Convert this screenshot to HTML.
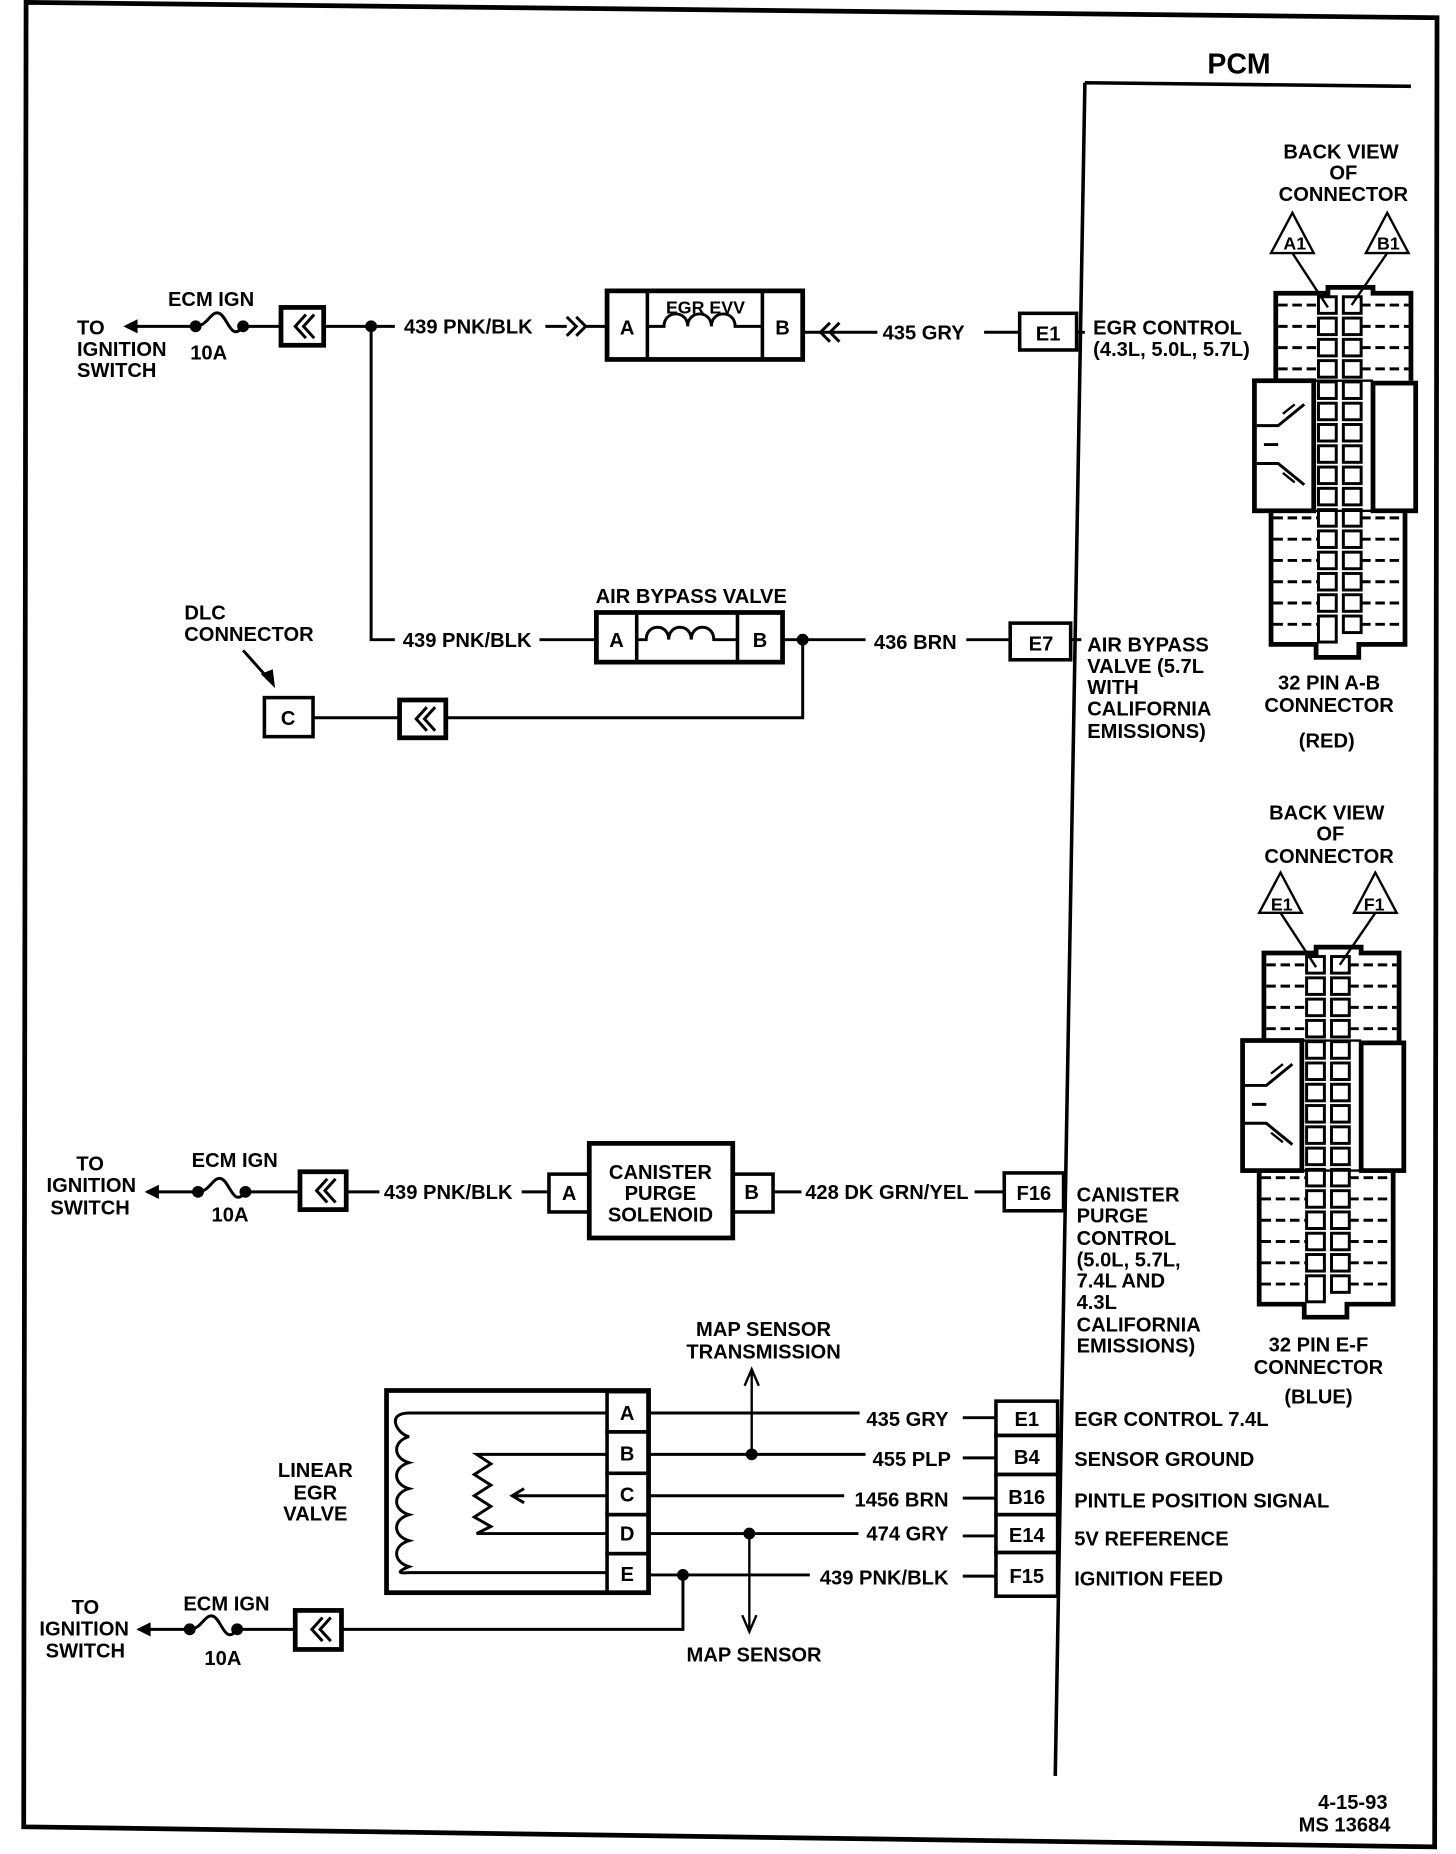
<!DOCTYPE html>
<html><head><meta charset="utf-8"><style>
html,body{margin:0;padding:0;background:#fff;}
svg{display:block;}
text{font-family:"Liberation Sans Narrow","Liberation Sans",sans-serif;font-weight:bold;font-size:17px;fill:#000;}
</style></head><body>
<svg width="1456" height="1854" viewBox="0 0 1228 1568" preserveAspectRatio="none" xmlns="http://www.w3.org/2000/svg">
<defs>
<g id="conn" stroke="#000" fill="none">
  <path d="M1076,322 V248 H1120 V243 H1158 V248 H1190 V322" stroke-width="4"/>
  <rect x="1058" y="322" width="50" height="110" stroke-width="4"/>
  <rect x="1158" y="324" width="36" height="108" stroke-width="4"/>
  <path d="M1108,322 H1158 M1108,432 H1158" stroke-width="2"/>
  <path d="M1072,433 V545 H1110 V556 H1146 V545 H1185 V433" stroke-width="4"/>
  <path d="M1060,360 H1078 L1100,342 M1060,392 H1078 L1100,410 M1078,376 H1066" stroke-width="2.5"/>
  <path d="M1082,350 L1092,342 M1082,400 L1092,408" stroke-width="2"/>
  <g stroke-width="2.5">
   <rect x="1112" y="251" width="15" height="14"/><rect x="1133" y="251" width="15" height="14"/>
   <rect x="1112" y="269" width="15" height="14"/><rect x="1133" y="269" width="15" height="14"/>
   <rect x="1112" y="287" width="15" height="14"/><rect x="1133" y="287" width="15" height="14"/>
   <rect x="1112" y="305" width="15" height="14"/><rect x="1133" y="305" width="15" height="14"/>
   <rect x="1112" y="323" width="15" height="14"/><rect x="1133" y="323" width="15" height="14"/>
   <rect x="1112" y="341" width="15" height="14"/><rect x="1133" y="341" width="15" height="14"/>
   <rect x="1112" y="359" width="15" height="14"/><rect x="1133" y="359" width="15" height="14"/>
   <rect x="1112" y="377" width="15" height="14"/><rect x="1133" y="377" width="15" height="14"/>
   <rect x="1112" y="395" width="15" height="14"/><rect x="1133" y="395" width="15" height="14"/>
   <rect x="1112" y="413" width="15" height="14"/><rect x="1133" y="413" width="15" height="14"/>
   <rect x="1112" y="431" width="15" height="14"/><rect x="1133" y="431" width="15" height="14"/>
   <rect x="1112" y="449" width="15" height="14"/><rect x="1133" y="449" width="15" height="14"/>
   <rect x="1112" y="467" width="15" height="14"/><rect x="1133" y="467" width="15" height="14"/>
   <rect x="1112" y="485" width="15" height="14"/><rect x="1133" y="485" width="15" height="14"/>
   <rect x="1112" y="503" width="15" height="14"/><rect x="1133" y="503" width="15" height="14"/>
   <rect x="1112" y="521" width="15" height="22"/><rect x="1133" y="521" width="15" height="14"/>
  </g>
  <g stroke-width="2.5" stroke-dasharray="8,4">
   <path d="M1078,258 H1112 M1148,258 H1188 M1078,276 H1112 M1148,276 H1188 M1078,294 H1112 M1148,294 H1188 M1078,312 H1112 M1148,312 H1188"/>
   <path d="M1074,438 H1112 M1148,438 H1183 M1074,456 H1112 M1148,456 H1183 M1074,474 H1112 M1148,474 H1183 M1074,492 H1112 M1148,492 H1183 M1074,510 H1112 M1148,510 H1183 M1074,528 H1112 M1148,528 H1183"/>
  </g>
  <polygon points="1090,180 1072,214 1108,214" stroke-width="2"/>
  <polygon points="1170,180 1152,214 1188,214" stroke-width="2"/>
  <path d="M1090,214 L1120,260 M1170,214 L1140,258" stroke-width="2"/>
</g>
</defs>

<polygon points="22,2 1212,15 1210,1562 20,1545" fill="none" stroke="#000" stroke-width="4"/>
<text x="1045" y="62" style="font-size:24px" text-anchor="middle">PCM</text>
<path d="M915,70 L1190,73 M915,70 L890,1502" stroke="#000" stroke-width="3" fill="none"/>

<g stroke="#000" fill="none" stroke-width="2.5">
<path d="M108,276 H165"/>
<path d="M165,276 C175,276 178,262 185,265 C192,268 195,290 205,276"/>
<path d="M205,276 H237 M273,276 H333"/>
<rect x="237" y="260" width="36" height="32" stroke-width="4"/>
<path d="M258,266 L249,276 L258,286 M265,266 L256,276 L265,286"/>
<path d="M313,276 V541 H333"/>
<path d="M460,276 H478 M478,268 L486,276 L478,284 M486,268 L494,276 L486,284 M494,276 H512"/>
<rect x="512" y="246" width="165" height="58" stroke-width="4"/>
<path d="M546,246 V304 M643,246 V304" stroke-width="3"/>
<path d="M546,276 H560 c0,-14 20,-14 20,0 c0,-14 20,-14 20,0 c0,-14 20,-14 20,0 V276 H643"/>
<path d="M677,281 H708 M700,273 L692,281 L700,289 M708,273 L700,281 L708,289 M708,281 H740"/>
<path d="M830,281 H860"/>
<rect x="860" y="265" width="48" height="31" stroke-width="3"/>
<path d="M908,281 H915"/>
<path d="M455,541 H503"/>
<rect x="503" y="518" width="157" height="42" stroke-width="4"/>
<path d="M537,518 V560 M622,518 V560" stroke-width="3"/>
<path d="M537,541 H545 c0,-14 19,-14 19,0 c0,-14 19,-14 19,0 c0,-14 19,-14 19,0 V541 H622"/>
<path d="M660,541 H730 M815,541 H852"/>
<rect x="852" y="527" width="51" height="31" stroke-width="3"/>
<path d="M903,541 H912"/>
<path d="M677,541 V607 H376 M337,607 H264"/>
<rect x="337" y="592" width="39" height="32" stroke-width="4"/>
<path d="M360,598 L351,608 L360,618 M367,598 L358,608 L367,618"/>
<rect x="223" y="590" width="41" height="33" stroke-width="3"/>
<path d="M205,550 L230,578"/>
<path d="M124,1008 H167"/>
<path d="M167,1008 C177,1008 180,994 187,997 C194,1000 197,1022 207,1008"/>
<path d="M207,1008 H253 M292,1008 H320 M440,1008 H463"/>
<rect x="253" y="991" width="39" height="32" stroke-width="4"/>
<path d="M276,997 L267,1007 L276,1017 M283,997 L274,1007 L283,1017"/>
<rect x="463" y="993" width="34" height="32" stroke-width="3"/>
<rect x="497" y="967" width="121" height="80" stroke-width="4"/>
<rect x="618" y="993" width="34" height="32" stroke-width="3"/>
<path d="M652,1008 H676 M822,1008 H847"/>
<rect x="847" y="992" width="50" height="32" stroke-width="3"/>
<rect x="326" y="1176" width="221" height="171" stroke-width="4"/>
<rect x="512" y="1177" width="35" height="34" stroke-width="3"/>
<rect x="512" y="1211" width="35" height="35" stroke-width="3"/>
<rect x="512" y="1246" width="35" height="35" stroke-width="3"/>
<rect x="512" y="1281" width="35" height="33" stroke-width="3"/>
<rect x="512" y="1314" width="35" height="33" stroke-width="3"/>
<path d="M512,1195 H345 c-20,0 -10,18 0,20 c-14,4 -14,18 0,22 c-14,4 -14,18 0,22 c-14,4 -14,18 0,22 c-14,4 -14,18 0,22 c-14,4 -14,18 0,22 c-10,4 -10,6 0,5 H512"/>
<path d="M512,1230 H402 L414,1238 L400,1247 L414,1256 L400,1265 L414,1274 L400,1283 L414,1291 L402,1297 H512"/>
<path d="M512,1265 H432 M442,1259 L432,1265 L442,1271"/>
<path d="M547,1195 H725 M547,1230 H730 M547,1265 H712 M547,1297 H724 M547,1332 H683"/>
<path d="M812,1199 H840 M812,1233 H840 M812,1267 H840 M812,1299 H840 M812,1333 H840"/>
<rect x="840" y="1185" width="52" height="29" stroke-width="3"/>
<rect x="840" y="1214" width="52" height="33" stroke-width="3"/>
<rect x="840" y="1247" width="52" height="34" stroke-width="3"/>
<rect x="840" y="1281" width="52" height="32" stroke-width="3"/>
<rect x="840" y="1313" width="52" height="37" stroke-width="3"/>
<path d="M634,1230 V1160 M628,1172 L634,1158 L640,1172" stroke-width="2"/>
<path d="M632,1297 V1378 M626,1366 L632,1380 L638,1366" stroke-width="2"/>
<path d="M576,1332 V1378 H288 M249,1378 H200"/>
<rect x="249" y="1362" width="39" height="33" stroke-width="4"/>
<path d="M272,1368 L263,1378 L272,1388 M279,1368 L270,1378 L279,1388"/>
<path d="M160,1378 C170,1378 173,1364 180,1367 C187,1370 190,1392 200,1378"/>
<path d="M117,1378 H160"/>
</g>
<g fill="#000">
<circle cx="313" cy="276" r="5"/><circle cx="165" cy="276" r="5"/><circle cx="205" cy="276" r="5"/>
<circle cx="677" cy="541" r="5"/>
<circle cx="167" cy="1008" r="5"/><circle cx="207" cy="1008" r="5"/>
<circle cx="160" cy="1378" r="5"/><circle cx="200" cy="1378" r="5"/>
<circle cx="634" cy="1230" r="5"/><circle cx="632" cy="1297" r="5"/><circle cx="576" cy="1332" r="5"/>
<polygon points="104,276 116,270 116,282"/>
<polygon points="122,1008 134,1002 134,1014"/>
<polygon points="115,1378 127,1372 127,1384"/>
<polygon points="232,582 220,570 230,566"/>
</g>

<use href="#conn"/>
<use href="#conn" transform="translate(-10,558)"/>

<g>
<text x="65" y="283">TO</text>
<text x="65" y="301">IGNITION</text>
<text x="65" y="319">SWITCH</text>
<text x="178" y="259" text-anchor="middle">ECM IGN</text>
<text x="176" y="304" text-anchor="middle">10A</text>
<text x="395" y="282" text-anchor="middle">439 PNK/BLK</text>
<text x="529" y="283" text-anchor="middle">A</text>
<text x="660" y="283" text-anchor="middle">B</text>
<text x="595" y="265" text-anchor="middle" style="font-size:15px">EGR EVV</text>
<text x="779" y="287" text-anchor="middle">435 GRY</text>
<text x="884" y="288" text-anchor="middle">E1</text>
<text x="922" y="283">EGR CONTROL</text>
<text x="922" y="301">(4.3L, 5.0L, 5.7L)</text>

<text x="583" y="510" text-anchor="middle">AIR BYPASS VALVE</text>
<text x="394" y="547" text-anchor="middle">439 PNK/BLK</text>
<text x="520" y="547" text-anchor="middle">A</text>
<text x="641" y="547" text-anchor="middle">B</text>
<text x="772" y="549" text-anchor="middle">436 BRN</text>
<text x="878" y="550" text-anchor="middle">E7</text>
<text x="917" y="551">AIR BYPASS</text>
<text x="917" y="569">VALVE (5.7L</text>
<text x="917" y="587">WITH</text>
<text x="917" y="605">CALIFORNIA</text>
<text x="917" y="624">EMISSIONS)</text>
<text x="173" y="524" text-anchor="middle">DLC</text>
<text x="210" y="542" text-anchor="middle">CONNECTOR</text>
<text x="243" y="613" text-anchor="middle">C</text>

<text x="1131" y="134" text-anchor="middle">BACK VIEW</text>
<text x="1133" y="152" text-anchor="middle">OF</text>
<text x="1133" y="170" text-anchor="middle">CONNECTOR</text>
<text x="1092" y="211" text-anchor="middle" style="font-size:15px">A1</text>
<text x="1171" y="211" text-anchor="middle" style="font-size:15px">B1</text>
<text x="1121" y="583" text-anchor="middle">32 PIN A-B</text>
<text x="1121" y="602" text-anchor="middle">CONNECTOR</text>
<text x="1119" y="632" text-anchor="middle">(RED)</text>

<text x="1119" y="693" text-anchor="middle">BACK VIEW</text>
<text x="1122" y="711" text-anchor="middle">OF</text>
<text x="1121" y="730" text-anchor="middle">CONNECTOR</text>
<text x="1081" y="770" text-anchor="middle" style="font-size:15px">E1</text>
<text x="1159" y="770" text-anchor="middle" style="font-size:15px">F1</text>
<text x="1112" y="1143" text-anchor="middle">32 PIN E-F</text>
<text x="1112" y="1162" text-anchor="middle">CONNECTOR</text>
<text x="1112" y="1187" text-anchor="middle">(BLUE)</text>

<text x="76" y="990" text-anchor="middle">TO</text>
<text x="77" y="1008" text-anchor="middle">IGNITION</text>
<text x="76" y="1027" text-anchor="middle">SWITCH</text>
<text x="198" y="987" text-anchor="middle">ECM IGN</text>
<text x="194" y="1033" text-anchor="middle">10A</text>
<text x="378" y="1014" text-anchor="middle">439 PNK/BLK</text>
<text x="480" y="1015" text-anchor="middle">A</text>
<text x="557" y="997" text-anchor="middle">CANISTER</text>
<text x="557" y="1015" text-anchor="middle">PURGE</text>
<text x="557" y="1033" text-anchor="middle">SOLENOID</text>
<text x="634" y="1014" text-anchor="middle">B</text>
<text x="748" y="1014" text-anchor="middle">428 DK GRN/YEL</text>
<text x="872" y="1015" text-anchor="middle">F16</text>
<text x="908" y="1016">CANISTER</text>
<text x="908" y="1034">PURGE</text>
<text x="908" y="1053">CONTROL</text>
<text x="908" y="1071">(5.0L, 5.7L,</text>
<text x="908" y="1089">7.4L AND</text>
<text x="908" y="1107">4.3L</text>
<text x="908" y="1126">CALIFORNIA</text>
<text x="908" y="1144">EMISSIONS)</text>

<text x="644" y="1130" text-anchor="middle">MAP SENSOR</text>
<text x="644" y="1149" text-anchor="middle">TRANSMISSION</text>
<text x="266" y="1249" text-anchor="middle">LINEAR</text>
<text x="266" y="1268" text-anchor="middle">EGR</text>
<text x="266" y="1286" text-anchor="middle">VALVE</text>
<text x="529" y="1201" text-anchor="middle">A</text>
<text x="529" y="1235" text-anchor="middle">B</text>
<text x="529" y="1270" text-anchor="middle">C</text>
<text x="529" y="1303" text-anchor="middle">D</text>
<text x="529" y="1337" text-anchor="middle">E</text>
<text x="800" y="1206" text-anchor="end">435 GRY</text>
<text x="802" y="1240" text-anchor="end">455 PLP</text>
<text x="800" y="1274" text-anchor="end">1456 BRN</text>
<text x="800" y="1303" text-anchor="end">474 GRY</text>
<text x="800" y="1340" text-anchor="end">439 PNK/BLK</text>
<text x="866" y="1206" text-anchor="middle">E1</text>
<text x="866" y="1238" text-anchor="middle">B4</text>
<text x="866" y="1272" text-anchor="middle">B16</text>
<text x="866" y="1304" text-anchor="middle">E14</text>
<text x="866" y="1339" text-anchor="middle">F15</text>
<text x="906" y="1206">EGR CONTROL 7.4L</text>
<text x="906" y="1240">SENSOR GROUND</text>
<text x="906" y="1275">PINTLE POSITION SIGNAL</text>
<text x="906" y="1307">5V REFERENCE</text>
<text x="906" y="1341">IGNITION FEED</text>
<text x="636" y="1405" text-anchor="middle">MAP SENSOR</text>

<text x="72" y="1365" text-anchor="middle">TO</text>
<text x="71" y="1383" text-anchor="middle">IGNITION</text>
<text x="72" y="1402" text-anchor="middle">SWITCH</text>
<text x="191" y="1362" text-anchor="middle">ECM IGN</text>
<text x="188" y="1408" text-anchor="middle">10A</text>

<text x="1141" y="1530" text-anchor="middle">4-15-93</text>
<text x="1134" y="1549" text-anchor="middle">MS 13684</text>
</g>
</svg>
</body></html>
